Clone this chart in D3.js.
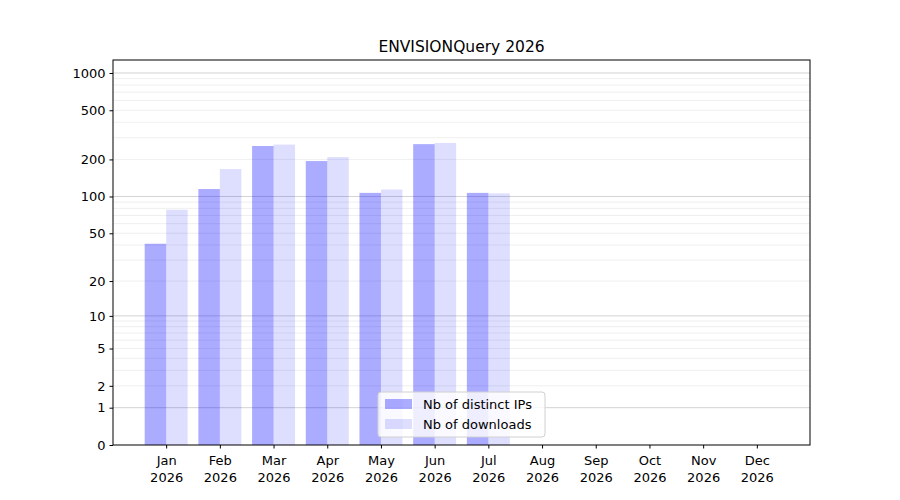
<!DOCTYPE html>
<html><head><meta charset="utf-8">
<script src="https://cdn.jsdelivr.net/npm/d3@7"></script>
<style>body{margin:0;background:#fff}text{font-family:"DejaVu Sans",sans-serif}</style>
</head><body><div id="chart"></div>
<script>
const months = ["Jan","Feb","Mar","Apr","May","Jun","Jul","Aug","Sep","Oct","Nov","Dec"];
const distinctIPs = [41, 115, 257, 194, 107, 266, 107, 0, 0, 0, 0, 0];
const downloads = [78, 167, 264, 209, 114, 272, 106, 0, 0, 0, 0, 0];
const yTicks = [0, 1, 2, 5, 10, 20, 50, 100, 200, 500, 1000];

const W = 900, H = 500;
const m = {left: 113, right: 810, top: 60, bottom: 445};
const svg = d3.select("#chart").append("svg").attr("width", W).attr("height", H);

const x = d3.scaleLinear().domain([-0.99, 11.99]).range([m.left, m.right]);
const y = d3.scaleSymlog().constant(1).domain([0, 1273]).range([m.bottom, m.top]);
const bw = x(0.4) - x(0);

// grid: minor lines light, decades darker
const minor = [];
for (const d of [1, 10, 100, 1000]) for (let k = 2; k <= 9; k++) if (d * k < 1273) minor.push(d * k);
svg.append("g").selectAll("line").data(minor).enter().append("line")
  .attr("x1", m.left).attr("x2", m.right)
  .attr("y1", d => y(d)).attr("y2", d => y(d))
  .attr("stroke", "#ebebeb").attr("stroke-width", 0.8);
svg.append("g").selectAll("line").data([1, 10, 100, 1000]).enter().append("line")
  .attr("x1", m.left).attr("x2", m.right)
  .attr("y1", d => y(d)).attr("y2", d => y(d))
  .attr("stroke", "#c8c8c8").attr("stroke-width", 0.8);

svg.append("g").selectAll("rect").data(distinctIPs).enter().append("rect")
  .attr("x", (d, i) => x(i - 0.4)).attr("width", bw)
  .attr("y", d => y(d)).attr("height", d => y(0) - y(d))
  .attr("fill", "#0000ff").attr("fill-opacity", 0.33);
svg.append("g").selectAll("rect").data(downloads).enter().append("rect")
  .attr("x", (d, i) => x(i)).attr("width", bw)
  .attr("y", d => y(d)).attr("height", d => y(0) - y(d))
  .attr("fill", "#0000ff").attr("fill-opacity", 0.13);

// frame
svg.append("rect").attr("x", m.left).attr("y", m.top)
  .attr("width", m.right - m.left).attr("height", m.bottom - m.top)
  .attr("fill", "none").attr("stroke", "#000").attr("stroke-width", 1);

// axes
const yAxis = svg.append("g").attr("transform", `translate(${m.left},0)`)
  .call(d3.axisLeft(y).tickValues(yTicks).tickFormat(d3.format("d")).tickSize(3.5).tickPadding(4));
yAxis.select(".domain").remove();
yAxis.selectAll("text").attr("font-size", 13).attr("fill", "#000");

const xAxis = svg.append("g").attr("transform", `translate(0,${m.bottom})`)
  .call(d3.axisBottom(x).tickValues(d3.range(12)).tickFormat("").tickSize(3.5));
xAxis.select(".domain").remove();
xAxis.selectAll(".tick").each(function(d) {
  const t = d3.select(this).append("text").attr("fill", "#000").attr("font-size", 13).attr("text-anchor", "middle");
  t.append("tspan").attr("x", 0).attr("y", 20).text(months[d]);
  t.append("tspan").attr("x", 0).attr("y", 37).text("2026");
});

svg.append("text").attr("x", (m.left + m.right) / 2).attr("y", 52)
  .attr("text-anchor", "middle").attr("font-size", 15.5).text("ENVISIONQuery 2026");

// legend
const lg = svg.append("g").attr("transform", "translate(378,392)");
lg.append("rect").attr("width", 167).attr("height", 45).attr("rx", 3)
  .attr("fill", "#fff").attr("fill-opacity", 0.8).attr("stroke", "#d0d0d0");
const items = [["Nb of distinct IPs", 0.33], ["Nb of downloads", 0.13]];
items.forEach((it, i) => {
  lg.append("rect").attr("x", 7).attr("y", 7 + i * 20).attr("width", 27).attr("height", 10)
    .attr("fill", "#0000ff").attr("fill-opacity", it[1]);
  lg.append("text").attr("x", 45).attr("y", 17 + i * 20).attr("font-size", 13).text(it[0]);
});
</script></body></html>
